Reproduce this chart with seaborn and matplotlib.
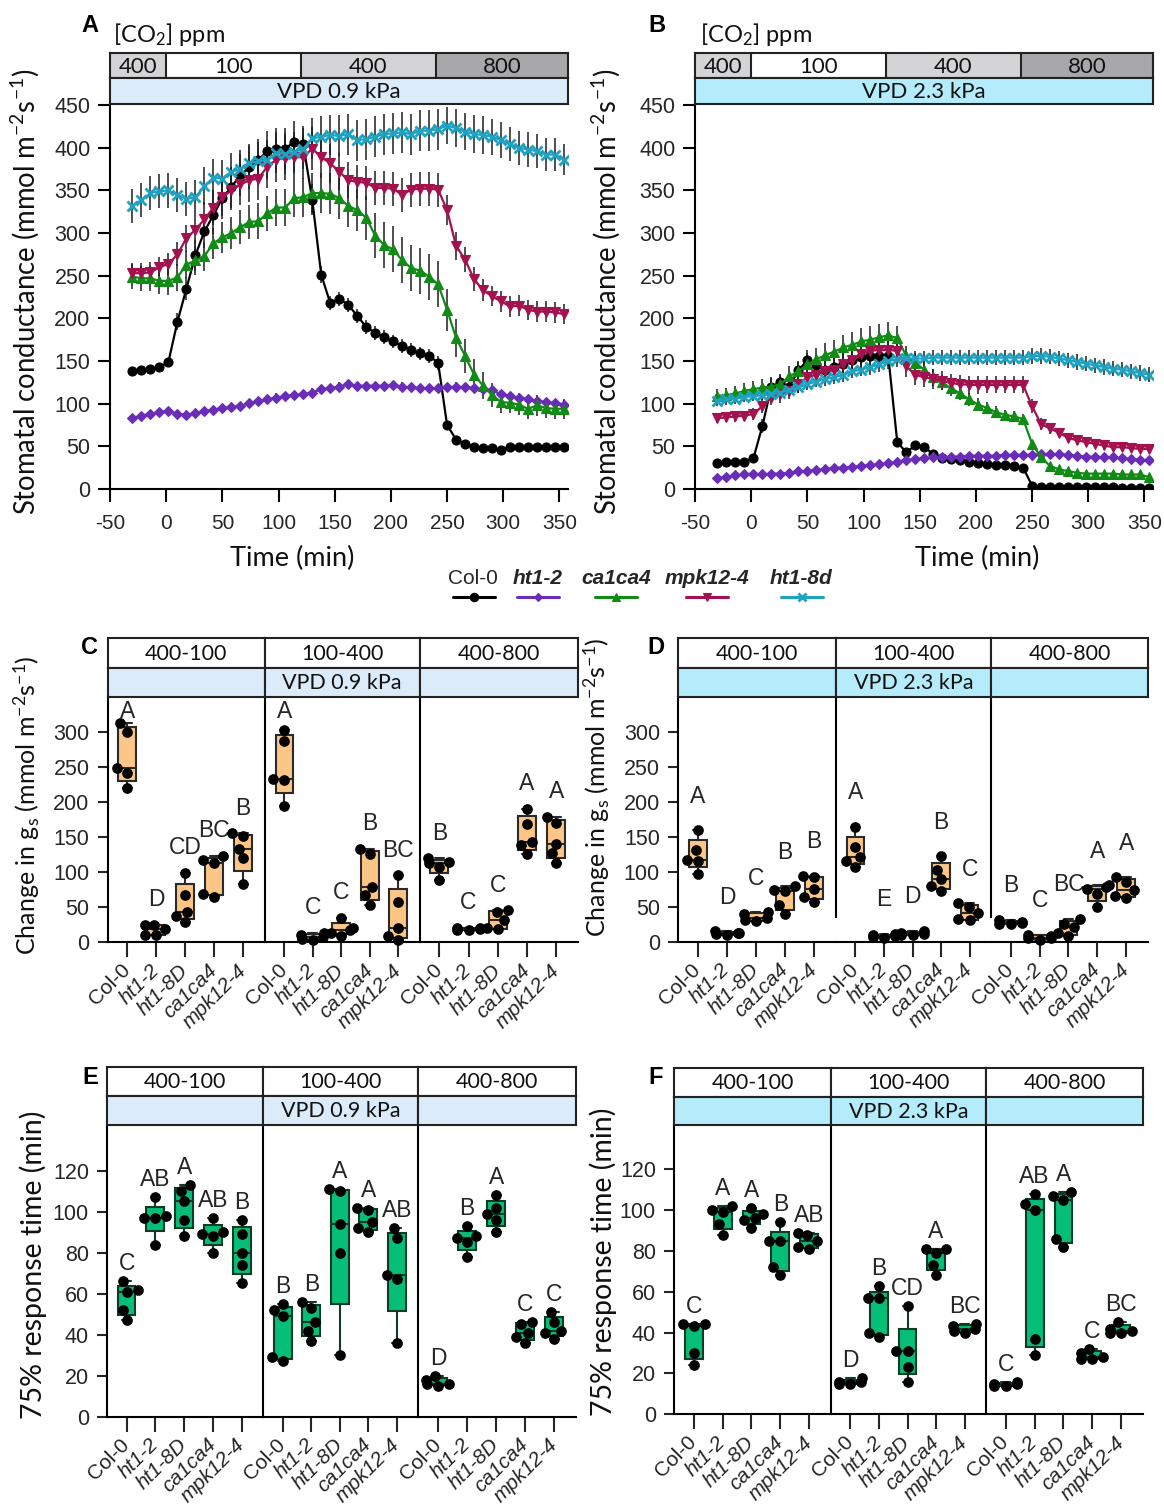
import numpy as np
import pandas as pd
import matplotlib
matplotlib.use("Agg")
import matplotlib.pyplot as plt
import seaborn as sns

W, H = 1164, 1507
sns.set_theme(style="ticks")
plt.rcParams["font.family"] = ["Liberation Sans", "DejaVu Sans"]
plt.rcParams["mathtext.fontset"] = "custom"
plt.rcParams["mathtext.rm"] = "Lato"
plt.rcParams["mathtext.it"] = "Lato:italic"
plt.rcParams["mathtext.bf"] = "Lato:bold"
plt.rcParams["mathtext.default"] = "regular"
plt.rcParams["axes.unicode_minus"] = False
plt.rcParams["axes.linewidth"] = 1.5
plt.rcParams["axes.edgecolor"] = "black"
LAB = ["Lato", "DejaVu Sans"]
TXT = "#262626"

# ---------------- time-course data (panels A, B) ----------------
time_min = [-30, -22, -14, -6, 2, 10, 18, 26, 34, 42, 50, 58, 66, 74, 82, 90, 98, 106, 114, 122,
            130, 138, 146, 154, 162, 170, 178, 186, 194, 202, 210, 218, 226, 234, 242, 250, 258,
            266, 274, 282, 290, 298, 306, 314, 322, 330, 338, 346, 354]
ts_genotypes = ["Col-0", "ht1-2", "ca1ca4", "mpk12-4", "ht1-8d"]

A_col0 = [138, 139, 141, 143, 149, 196, 235, 274, 302, 321, 341, 354, 368, 377, 386, 396, 399, 399, 407, 404,
          339, 251, 218, 223, 216, 203, 190, 183, 178, 173, 168, 163, 159, 156, 148, 75, 58, 53, 49, 48,
          48, 46, 49, 49, 49, 49, 49, 49, 49]
A_ht12 = [83, 86, 88, 90, 92, 88, 87, 89, 91, 93, 95, 96, 97, 101, 103, 105, 107, 109, 110, 111,
          113, 117, 118, 120, 123, 121, 121, 121, 121, 122, 120, 119, 118, 118, 118, 119, 120, 119, 118, 117,
          116, 111, 109, 107, 105, 103, 102, 101, 99]
A_ca1ca4 = [249, 247, 247, 244, 244, 248, 263, 268, 273, 288, 295, 300, 307, 313, 314, 323, 330, 330, 341, 342,
            347, 347, 346, 341, 332, 327, 318, 297, 286, 281, 268, 259, 256, 249, 240, 210, 177, 156, 134, 121,
            110, 102, 101, 99, 94, 98, 95, 94, 94]
A_mpk124 = [253, 253, 254, 260, 264, 275, 294, 304, 316, 330, 342, 350, 357, 362, 364, 378, 386, 388, 389, 389,
            399, 389, 382, 372, 362, 360, 359, 353, 353, 352, 345, 351, 352, 352, 351, 327, 285, 269, 246, 233,
            226, 220, 214, 215, 210, 208, 208, 207, 205]
A_ht18d = [332, 339, 347, 349, 350, 345, 340, 342, 355, 365, 364, 372, 375, 382, 384, 386, 394, 393, 395, 399,
           411, 413, 415, 414, 416, 409, 410, 413, 416, 417, 418, 416, 420, 420, 422, 426, 423, 419, 416, 415,
           413, 409, 404, 400, 398, 396, 392, 392, 386]

A_col0_sem = [4, 4, 4, 4, 5, 10, 14, 18, 20, 22, 24, 24, 25, 25, 24, 24, 24, 24, 24, 22,
              18, 10, 8, 8, 8, 8, 8, 8, 8, 8, 8, 8, 8, 8, 8, 5, 4, 3, 3, 3,
              3, 3, 3, 3, 3, 3, 3, 3, 3]
A_ht12_sem = [4, 4, 4, 4, 4, 4, 4, 4, 4, 4, 4, 4, 4, 5, 5, 5, 5, 5, 5, 5,
              5, 5, 5, 5, 5, 5, 5, 5, 5, 5, 5, 5, 5, 5, 5, 5, 5, 5, 5, 5,
              5, 5, 5, 5, 5, 5, 5, 5, 5]
A_ca1ca4_sem = [15, 15, 15, 15, 16, 16, 16, 17, 17, 18, 18, 19, 20, 20, 21, 21, 22, 22, 22, 23,
                23, 23, 24, 24, 25, 25, 26, 26, 27, 27, 27, 27, 27, 27, 27, 25, 22, 20, 18, 16,
                14, 13, 12, 12, 12, 12, 12, 12, 12]
A_mpk124_sem = [12, 12, 12, 12, 13, 14, 16, 18, 20, 21, 22, 23, 24, 25, 25, 25, 26, 26, 26, 26,
                25, 24, 23, 22, 21, 20, 20, 20, 20, 20, 20, 20, 20, 20, 20, 18, 16, 15, 14, 13,
                12, 12, 12, 12, 12, 12, 12, 12, 12]
A_ht18d_sem = [20, 20, 20, 20, 20, 20, 20, 20, 22, 22, 22, 22, 23, 23, 23, 23, 24, 24, 24, 24,
               24, 24, 24, 24, 24, 24, 24, 24, 24, 24, 24, 24, 24, 24, 24, 22, 22, 22, 22, 22,
               21, 21, 20, 20, 20, 20, 19, 19, 18]

B_col0 = [31, 32, 32, 32, 36, 74, 120, 125, 120, 139, 151, 145, 140, 143, 146, 151, 155, 156, 156, 156,
          55, 43, 51, 49, 41, 36, 35, 34, 32, 30, 29, 28, 28, 27, 25, 4, 2, 2, 2, 2,
          2, 2, 2, 2, 2, 1, 1, 1, 1]
B_ht12 = [13, 14, 16, 17, 18, 17, 18, 18, 19, 21, 21, 22, 23, 25, 25, 26, 27, 28, 29, 30,
          32, 34, 35, 36, 37, 37, 38, 38, 39, 39, 39, 39, 40, 40, 40, 40, 41, 41, 41, 40,
          39, 38, 38, 37, 37, 36, 35, 34, 34]
B_ca1ca4 = [109, 110, 112, 115, 117, 119, 120, 123, 132, 138, 146, 152, 157, 161, 166, 169, 173, 175, 178, 180,
            177, 156, 148, 140, 131, 125, 118, 112, 105, 99, 95, 90, 87, 85, 82, 53, 37, 27, 23, 21,
            19, 18, 18, 18, 18, 17, 17, 17, 14]
B_mpk124 = [83, 84, 85, 86, 88, 97, 107, 111, 115, 123, 131, 134, 138, 140, 147, 151, 158, 162, 163, 163,
            162, 144, 134, 131, 129, 127, 124, 123, 122, 122, 122, 122, 122, 122, 122, 97, 76, 71, 66, 60,
            57, 55, 53, 51, 49, 49, 48, 47, 47]
B_ht18d = [103, 105, 106, 108, 109, 110, 111, 113, 116, 119, 123, 126, 129, 131, 134, 138, 140, 143, 146, 150,
           152, 153, 153, 153, 154, 154, 154, 154, 154, 154, 154, 154, 154, 154, 154, 156, 156, 155, 153, 151,
           149, 147, 145, 143, 141, 140, 138, 136, 134]

B_col0_sem = [3, 3, 3, 3, 4, 8, 10, 10, 10, 10, 12, 12, 12, 12, 12, 12, 12, 12, 12, 12,
              6, 5, 5, 5, 4, 4, 4, 4, 4, 4, 4, 4, 4, 4, 4, 2, 2, 2, 2, 2,
              2, 2, 2, 2, 2, 2, 2, 2, 2]
B_ht12_sem = [3, 3, 3, 3, 3, 3, 3, 3, 3, 3, 3, 3, 3, 3, 3, 3, 3, 3, 3, 3,
              3, 3, 3, 3, 3, 3, 3, 3, 3, 3, 3, 3, 3, 3, 3, 3, 3, 3, 3, 3,
              3, 3, 3, 3, 3, 3, 3, 3, 3]
B_ca1ca4_sem = [8, 8, 9, 9, 10, 10, 11, 11, 12, 12, 13, 13, 14, 14, 15, 15, 16, 16, 16, 16,
                14, 12, 11, 10, 10, 9, 9, 8, 8, 8, 7, 7, 6, 6, 6, 5, 4, 4, 3, 3,
                3, 3, 3, 3, 3, 3, 3, 3, 3]
B_mpk124_sem = [6, 6, 6, 6, 7, 8, 9, 10, 10, 11, 12, 12, 13, 13, 13, 13, 13, 13, 13, 13,
                13, 13, 12, 12, 12, 11, 11, 11, 11, 11, 10, 10, 10, 10, 10, 8, 7, 6, 5, 5,
                5, 5, 5, 5, 5, 5, 5, 5, 5]
B_ht18d_sem = [6, 6, 6, 6, 6, 6, 6, 7, 7, 7, 7, 7, 8, 8, 8, 8, 8, 9, 9, 9,
               9, 9, 9, 9, 9, 9, 9, 9, 9, 9, 9, 9, 9, 9, 9, 9, 9, 9, 9, 9,
               9, 9, 9, 9, 9, 9, 9, 9, 9]

co2_levels = ["400", "100", "400", "800"]
co2_start = [-50, 0, 120, 240]
time_ticks = [-50, 0, 50, 100, 150, 200, 250, 300, 350]

# ---------------- box-plot data (panels C-F) ----------------
box_genotypes = ["Col-0", "ht1-2", "ht1-8D", "ca1ca4", "mpk12-4"]
transitions = ["400-100", "100-400", "400-800"]

C_400_100 = [[313, 301, 249, 242, 220], [25, 25, 19, 10, 10], [99, 68, 44, 38, 29], [124, 118, 114, 69, 65], [156, 152, 134, 120, 83]]
C_100_400 = [[304, 288, 233, 232, 195], [14, 10, 8, 5, 3], [35, 20, 18, 14, 9], [134, 126, 79, 67, 53], [96, 57, 21, 9, 4]]
C_400_800 = [[120, 115, 113, 108, 89], [21, 20, 19, 18, 17], [46, 44, 32, 20, 19], [191, 169, 144, 139, 126], [179, 171, 141, 127, 113]]
C_letters = [["A", "D", "CD", "BC", "B"], ["A", "C", "C", "B", "BC"], ["B", "C", "C", "A", "A"]]

D_400_100 = [[159, 131, 117, 116, 97], [15, 13, 12, 11, 9], [42, 40, 34, 31, 29], [79, 74, 73, 52, 39], [94, 92, 76, 64, 57]]
D_100_400 = [[164, 136, 121, 116, 107], [11, 9, 8, 7, 6], [16, 13, 11, 10, 9], [122, 103, 89, 79, 73], [55, 50, 41, 32, 31]]
D_400_800 = [[31, 28, 27, 26, 25], [10, 8, 6, 5, 3], [33, 26, 21, 12, 8], [81, 78, 75, 68, 49], [92, 86, 74, 65, 63]]
D_letters = [["A", "D", "C", "B", "B"], ["A", "E", "D", "B", "C"], ["B", "C", "BC", "A", "A"]]

E_400_100 = [[66, 62, 61, 52, 47], [107, 98, 97, 97, 84], [113, 110, 105, 96, 88], [97, 90, 89, 88, 80], [96, 89, 80, 74, 65]]
E_100_400 = [[55, 52, 49, 29, 27], [56, 53, 46, 42, 37], [111, 110, 94, 80, 30], [102, 101, 95, 92, 90], [92, 87, 69, 67, 36]]
E_400_800 = [[20, 18, 16, 16, 15], [93, 88, 87, 85, 78], [108, 102, 99, 96, 90], [46, 45, 41, 39, 36], [51, 46, 42, 41, 38]]
E_letters = [["C", "AB", "A", "AB", "B"], ["B", "B", "A", "A", "AB"], ["D", "B", "A", "C", "C"]]

F_400_100 = [[44, 44, 43, 30, 24], [102, 100, 99, 93, 88], [101, 98, 96, 95, 91], [94, 85, 85, 72, 68], [89, 88, 85, 82, 81]]
F_100_400 = [[18, 16, 16, 15, 15], [63, 57, 57, 40, 38], [53, 31, 31, 23, 16], [81, 81, 79, 73, 68], [44, 43, 42, 41, 40]]
F_400_800 = [[16, 15, 15, 14, 14], [108, 103, 100, 37, 29], [109, 107, 105, 86, 82], [32, 30, 28, 27, 27], [45, 42, 41, 40, 40]]
F_letters = [["C", "A", "A", "B", "AB"], ["D", "B", "CD", "A", "BC"], ["C", "AB", "A", "C", "BC"]]

# ---------------- styles ----------------
ts_style = {
    "Col-0": dict(color="black", marker="o", ms=6.5),
    "ht1-2": dict(color="#6a2db8", marker="D", ms=5.0),
    "ca1ca4": dict(color="#118a16", marker="^", ms=6.5),
    "mpk12-4": dict(color="#a3124f", marker="v", ms=6.5),
    "ht1-8d": dict(color="#1ea2c0", marker="x", ms=6.5),
}
VPD1 = "#dcebfa"
VPD2 = "#b4ecfc"
ORANGE = "#fdc687"
GREEN = "#05bf78"

fig = plt.figure(figsize=(W / 100, H / 100), dpi=100)


def rect(l, t, r, b):
    return [l / W, 1 - b / H, (r - l) / W, (b - t) / H]


def ftext(x, y, s, **kw):
    fig.text(x / W, 1 - y / H, s, **kw)


def plain_box(ax, color):
    ax.set_facecolor(color)
    ax.set_xticks([])
    ax.set_yticks([])
    for sp in ax.spines.values():
        sp.set_visible(True)
        sp.set_linewidth(1.5)
        sp.set_color("#222222")


# ---------------- panels A, B ----------------
def time_panel(l, r, series, sems, vpd_text, vpd_color):
    ax = fig.add_axes(rect(l, 104.3, r, 489))
    for g, vals, err in zip(ts_genotypes, series, sems):
        st = ts_style[g]
        ax.errorbar(time_min, vals, yerr=err, fmt="none", ecolor="#1e1e1e", elinewidth=1.1,
                    capsize=0, zorder=2)
        sns.lineplot(x=time_min, y=vals, ax=ax, color=st["color"], marker=st["marker"],
                     markersize=st["ms"], markeredgecolor=st["color"],
                     markeredgewidth=2.0 if st["marker"] == "x" else 0.8,
                     linewidth=1.6, errorbar=None, legend=False, sort=False, zorder=3)
    ax.set_xlim(-50, 357.6)
    ax.set_ylim(0, 451)
    ax.set_xticks(time_ticks)
    ax.set_xticklabels([str(t) for t in time_ticks])
    ax.set_yticks(range(0, 451, 50))
    ax.tick_params(axis="x", length=9, width=1.5, labelsize=15, labelcolor=TXT, color="black", pad=9)
    ax.tick_params(axis="y", length=9, width=1.5, labelsize=15.5, labelcolor=TXT, color="black", pad=5)
    sns.despine(ax=ax)
    ax.set_xlabel("")
    ax.set_ylabel("")

    axc = fig.add_axes(rect(l, 52.7, r, 78.3))
    plain_box(axc, "white")
    axc.set_xlim(ax.get_xlim())
    axc.set_ylim(0, 1)
    ends = co2_start[1:] + [ax.get_xlim()[1]]
    shades = {"400": "#d4d4d6", "100": "white", "800": "#a8a8aa"}
    for lev, s, e in zip(co2_levels, co2_start, ends):
        axc.axvspan(s, e, color=shades[lev], lw=0)
        if s > -50:
            axc.axvline(s, color="#222222", lw=1.5)
        axc.text((s + e) / 2, 0.45, lev, ha="center", va="center", fontsize=16, family=LAB, color="#111")

    axv = fig.add_axes(rect(l, 78.3, r, 104.3))
    plain_box(axv, vpd_color)
    axv.text(0.5, 0.48, vpd_text, ha="center", va="center", fontsize=16, family=LAB,
             color="#111", transform=axv.transAxes)
    return ax


time_panel(110, 568, [A_col0, A_ht12, A_ca1ca4, A_mpk124, A_ht18d],
           [A_col0_sem, A_ht12_sem, A_ca1ca4_sem, A_mpk124_sem, A_ht18d_sem], "VPD 0.9 kPa", VPD1)
time_panel(695, 1153, [B_col0, B_ht12, B_ca1ca4, B_mpk124, B_ht18d],
           [B_col0_sem, B_ht12_sem, B_ca1ca4_sem, B_mpk124_sem, B_ht18d_sem], "VPD 2.3 kPa", VPD2)

ftext(90, 25, "A", fontsize=17, weight="bold", ha="center", va="center", color="black")
ftext(657, 25, "B", fontsize=17, weight="bold", ha="center", va="center", color="black")
ftext(113, 35, "[CO$_2$] ppm", fontsize=17, family=LAB, ha="left", va="center", color="#111")
ftext(700, 35, "[CO$_2$] ppm", fontsize=17, family=LAB, ha="left", va="center", color="#111")
ftext(292, 558, "Time (min)", fontsize=19.5, family=LAB, ha="center", va="center", color="#111")
ftext(977, 558, "Time (min)", fontsize=19.5, family=LAB, ha="center", va="center", color="#111")
ylab_ts = "Stomatal conductance (mmol m$^{-2}$s$^{-1}$)"
ftext(25, 292, ylab_ts, fontsize=19.8, family=LAB, rotation=90, ha="center", va="center", color="#111")
ftext(606, 292, ylab_ts, fontsize=19.8, family=LAB, rotation=90, ha="center", va="center", color="#111")

# legend
lax = fig.add_axes([0, 0, 1, 1])
lax.set_xlim(0, W)
lax.set_ylim(H, 0)
lax.axis("off")
leg_pos = {"Col-0": (473, 453, 495), "ht1-2": (538, 517, 559), "ca1ca4": (616, 595, 637),
           "mpk12-4": (707, 686, 728), "ht1-8d": (801, 781, 823)}
for g in ts_genotypes:
    cx, x0, x1 = leg_pos[g]
    st = ts_style[g]
    lax.plot([x0, x1], [597, 597], color=st["color"], lw=2.2)
    lax.plot([(x0 + x1) / 2], [597], color=st["color"], marker=st["marker"], ms=st["ms"] - 0.5,
             mec=st["color"], mew=2.0 if st["marker"] == "x" else 0.8)
    if g == "Col-0":
        lax.text(cx, 579, g, ha="center", va="center", fontsize=15, color=TXT)
    else:
        lax.text(cx, 579, g, ha="center", va="center", fontsize=15, color=TXT, weight="bold", style="italic")


# ---------------- panels C-F ----------------
def gp_summary(v):
    # GraphPad-style quartiles (Weibull / (n+1)p method), whiskers min-max
    return [np.min(v), np.percentile(v, 25, method="weibull"), np.median(v),
            np.percentile(v, 75, method="weibull"), np.max(v)]


def box_panel(edges, hdr_t, hdr_m, ax_t, y0, ppu, groups, letters, fill, edge, vpd_text, vpd_color,
              yticks, let_off_px, sep_low=None):
    ymax = (y0 - ax_t) / ppu
    for j in range(3):
        ax = fig.add_axes(rect(edges[j], ax_t, edges[j + 1], y0))
        vals = groups[j]
        genos = [g for g, v in zip(box_genotypes, vals) for _ in v]
        pts = pd.DataFrame({"geno": genos, "val": [x for v in vals for x in v]})
        summ = pd.DataFrame({"geno": [g for g in box_genotypes for _ in range(5)],
                             "val": [x for v in vals for x in gp_summary(v)]})
        sns.boxplot(data=summ, x="geno", y="val", order=box_genotypes, whis=(0, 100), width=0.62,
                    color=fill, saturation=1, linecolor=edge, linewidth=1.5, showfliers=False, ax=ax)
        sns.swarmplot(data=pts, x="geno", y="val", order=box_genotypes, color="black", size=7.7,
                      ax=ax, zorder=5, clip_on=False, warn_thresh=1.0)
        for i, (v, lt) in enumerate(zip(vals, letters[j])):
            yc = min(max(v) + let_off_px / ppu, ymax - 14 / ppu)
            ax.text(i, yc, lt, ha="center", va="center", fontsize=16.5, color=TXT)
        ax.set_xlim(-0.68, 4.75)
        ax.set_ylim(0, ymax)
        ax.set_xlabel("")
        ax.set_ylabel("")
        sns.despine(ax=ax)
        ax.set_xticks(range(5))
        ax.set_xticklabels(box_genotypes, rotation=45, ha="right", va="center", rotation_mode="anchor")
        for lbl in ax.get_xticklabels():
            if lbl.get_text() != "Col-0":
                lbl.set_style("italic")
        ax.tick_params(axis="x", length=11, width=1.5, labelsize=15, labelcolor=TXT, pad=7)
        if j == 0:
            ax.set_yticks(yticks)
            ax.tick_params(axis="y", length=7, width=1.5, labelsize=15.5, labelcolor=TXT, pad=6)
        else:
            ax.tick_params(axis="y", left=False, labelleft=False)
            if sep_low is not None:
                ax.spines["left"].set_bounds(sep_low, ymax)
        # facet header
        h1 = fig.add_axes(rect(edges[j], hdr_t, edges[j + 1], hdr_m))
        plain_box(h1, "white")
        h1.text(0.5, 0.47, transitions[j], ha="center", va="center", fontsize=15.5, family=LAB,
                color="#111", transform=h1.transAxes)
        h2 = fig.add_axes(rect(edges[j], hdr_m, edges[j + 1], ax_t))
        plain_box(h2, vpd_color)
        if j == 1:
            h2.text(0.5, 0.47, vpd_text, ha="center", va="center", fontsize=15.5, family=LAB,
                    color="#111", transform=h2.transAxes)


box_panel([107.5, 265, 419.5, 578], 638, 668, 697, 942.3, 0.7, [C_400_100, C_100_400, C_400_800],
          C_letters, ORANGE, "#2a2a2a", "VPD 0.9 kPa", VPD1, range(0, 301, 50), 25)
box_panel([678, 836, 991, 1148], 638, 668, 697, 941.7, 0.7, [D_400_100, D_100_400, D_400_800],
          D_letters, ORANGE, "#2a2a2a", "VPD 2.3 kPa", VPD2, range(0, 301, 50), 34, sep_low=35)
box_panel([107, 263.3, 418.3, 576], 1067, 1096, 1125, 1416.7, 2.05, [E_400_100, E_100_400, E_400_800],
          E_letters, GREEN, "#0d3b24", "VPD 0.9 kPa", VPD1, range(0, 121, 20), 17.5)
box_panel([674, 831, 986, 1143], 1068, 1097, 1125, 1414.3, 2.042, [F_400_100, F_100_400, F_400_800],
          F_letters, GREEN, "#0d3b24", "VPD 2.3 kPa", VPD2, range(0, 121, 20), 17.5)

for s, x, y in [("C", 90, 648), ("D", 656, 648), ("E", 90, 1077), ("F", 656, 1077)]:
    ftext(x, y, s, fontsize=17, weight="bold", ha="center", va="center", color="black")

ylab_c = "Change in g$_s$ (mmol m$^{-2}$s$^{-1}$)"
ftext(27, 805, ylab_c, fontsize=18, family=LAB, rotation=90, ha="center", va="center", color="#111")
ftext(597, 787, ylab_c, fontsize=18, family=LAB, rotation=90, ha="center", va="center", color="#111")
ylab_e = "75% response time (min)"
ftext(33, 1265, ylab_e, fontsize=20.5, family=LAB, rotation=90, ha="center", va="center", color="#111")
ftext(603, 1262, ylab_e, fontsize=20.5, family=LAB, rotation=90, ha="center", va="center", color="#111")

fig.savefig("out.png", dpi=100)
